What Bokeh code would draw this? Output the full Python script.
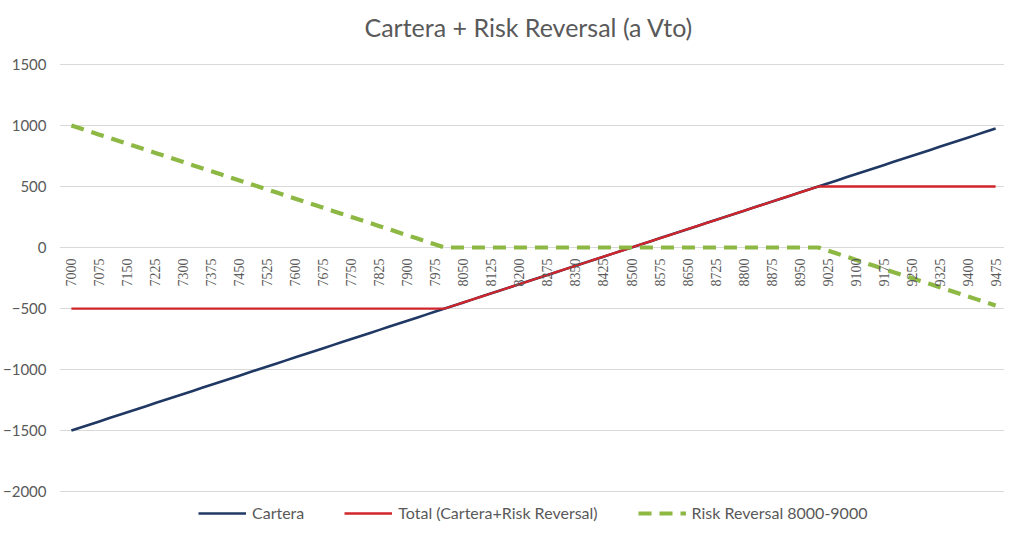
import math
from bokeh.plotting import figure
from bokeh.models import Range1d, FixedTicker, ColumnDataSource, Legend, LegendItem, LabelSet
from bokeh.embed import file_html
from bokeh.resources import INLINE

strikes = [
    7000, 7025, 7050, 7075, 7100, 7125, 7150, 7175, 7200, 7225,
    7250, 7275, 7300, 7325, 7350, 7375, 7400, 7425, 7450, 7475,
    7500, 7525, 7550, 7575, 7600, 7625, 7650, 7675, 7700, 7725,
    7750, 7775, 7800, 7825, 7850, 7875, 7900, 7925, 7950, 7975,
    8000, 8025, 8050, 8075, 8100, 8125, 8150, 8175, 8200, 8225,
    8250, 8275, 8300, 8325, 8350, 8375, 8400, 8425, 8450, 8475,
    8500, 8525, 8550, 8575, 8600, 8625, 8650, 8675, 8700, 8725,
    8750, 8775, 8800, 8825, 8850, 8875, 8900, 8925, 8950, 8975,
    9000, 9025, 9050, 9075, 9100, 9125, 9150, 9175, 9200, 9225,
    9250, 9275, 9300, 9325, 9350, 9375, 9400, 9425, 9450, 9475,
]

cartera = [
    -1500, -1475, -1450, -1425, -1400, -1375, -1350, -1325, -1300, -1275,
    -1250, -1225, -1200, -1175, -1150, -1125, -1100, -1075, -1050, -1025,
    -1000, -975, -950, -925, -900, -875, -850, -825, -800, -775,
    -750, -725, -700, -675, -650, -625, -600, -575, -550, -525,
    -500, -475, -450, -425, -400, -375, -350, -325, -300, -275,
    -250, -225, -200, -175, -150, -125, -100, -75, -50, -25,
    0, 25, 50, 75, 100, 125, 150, 175, 200, 225,
    250, 275, 300, 325, 350, 375, 400, 425, 450, 475,
    500, 525, 550, 575, 600, 625, 650, 675, 700, 725,
    750, 775, 800, 825, 850, 875, 900, 925, 950, 975,
]

total = [
    -500, -500, -500, -500, -500, -500, -500, -500, -500, -500,
    -500, -500, -500, -500, -500, -500, -500, -500, -500, -500,
    -500, -500, -500, -500, -500, -500, -500, -500, -500, -500,
    -500, -500, -500, -500, -500, -500, -500, -500, -500, -500,
    -500, -475, -450, -425, -400, -375, -350, -325, -300, -275,
    -250, -225, -200, -175, -150, -125, -100, -75, -50, -25,
    0, 25, 50, 75, 100, 125, 150, 175, 200, 225,
    250, 275, 300, 325, 350, 375, 400, 425, 450, 475,
    500, 500, 500, 500, 500, 500, 500, 500, 500, 500,
    500, 500, 500, 500, 500, 500, 500, 500, 500, 500,
]

risk_reversal = [
    1000, 975, 950, 925, 900, 875, 850, 825, 800, 775,
    750, 725, 700, 675, 650, 625, 600, 575, 550, 525,
    500, 475, 450, 425, 400, 375, 350, 325, 300, 275,
    250, 225, 200, 175, 150, 125, 100, 75, 50, 25,
    0, 0, 0, 0, 0, 0, 0, 0, 0, 0,
    0, 0, 0, 0, 0, 0, 0, 0, 0, 0,
    0, 0, 0, 0, 0, 0, 0, 0, 0, 0,
    0, 0, 0, 0, 0, 0, 0, 0, 0, 0,
    0, -25, -50, -75, -100, -125, -150, -175, -200, -225,
    -250, -275, -300, -325, -350, -375, -400, -425, -450, -475,
]

x_tick_labels = [
    7000, 7075, 7150, 7225, 7300, 7375, 7450, 7525, 7600, 7675,
    7750, 7825, 7900, 7975, 8050, 8125, 8200, 8275, 8350, 8425,
    8500, 8575, 8650, 8725, 8800, 8875, 8950, 9025, 9100, 9175,
    9250, 9325, 9400, 9475,
]
y_ticks = [-2000, -1500, -1000, -500, 0, 500, 1000, 1500]

series_names = ["Cartera", "Total (Cartera+Risk Reversal)", "Risk Reversal 8000-9000"]
title_text = "Cartera + Risk Reversal  (a Vto)"

FONT = "Lato"
GREY = "#595959"

p = figure(width=1004, height=522,
           x_range=Range1d(6968.2, 9498.8), y_range=Range1d(-2253.5, 1614.5),
           x_axis_location=None, output_backend="svg", toolbar_location=None,
           min_border_left=49, min_border_right=0, min_border_bottom=0, min_border_top=18)

p.title.text = title_text
p.title.align = "center"
p.title.offset = -10
p.title.standoff = 18
p.title.text_font = FONT
p.title.text_font_size = "25px"
p.title.text_font_style = "normal"
p.title.text_color = GREY

p.outline_line_color = None
p.xgrid.visible = False
p.yaxis.ticker = FixedTicker(ticks=y_ticks)
p.ygrid.ticker = FixedTicker(ticks=y_ticks)
p.ygrid.grid_line_color = "#D9D9D9"
p.ygrid.grid_line_width = 1
p.yaxis.axis_line_color = None
p.yaxis.major_tick_line_color = None
p.yaxis.minor_tick_line_color = None
p.yaxis.major_label_standoff = 7
p.yaxis.major_label_text_font = FONT
p.yaxis.major_label_text_font_size = "15px"
p.yaxis.major_label_text_color = GREY

src = ColumnDataSource(dict(x=strikes, c=cartera, t=total, r=risk_reversal))

r1 = p.line("x", "c", source=src, line_color="#203864", line_width=2.6)
r2 = p.line("x", "t", source=src, line_color="#D0262B", line_width=2.3)
r3 = p.line("x", "r", source=src, line_color="#8DB844", line_width=4.2, line_dash="13 8")

lab_src = ColumnDataSource(dict(x=x_tick_labels, y=[0] * len(x_tick_labels),
                                txt=[str(v) for v in x_tick_labels]))
labels = LabelSet(x="x", y="y", text="txt", source=lab_src, angle=math.pi / 2,
                  text_align="right", text_baseline="middle", y_offset=-11,
                  text_font=FONT, text_font_size="14px", text_color=GREY)
p.add_layout(labels)

legend = Legend(items=[LegendItem(label=series_names[0], renderers=[r1]),
                       LegendItem(label=series_names[1], renderers=[r2]),
                       LegendItem(label=series_names[2], renderers=[r3])],
                location=(139, 0), orientation="horizontal",
                glyph_width=48, glyph_height=16, label_height=16,
                label_standoff=6, spacing=40,
                margin=0, padding=0,
                border_line_alpha=0, background_fill_alpha=0,
                label_text_font=FONT, label_text_font_size="16px",
                label_text_color=GREY)
p.add_layout(legend, "center")

open("out.html", "w").write(file_html(p, INLINE))
